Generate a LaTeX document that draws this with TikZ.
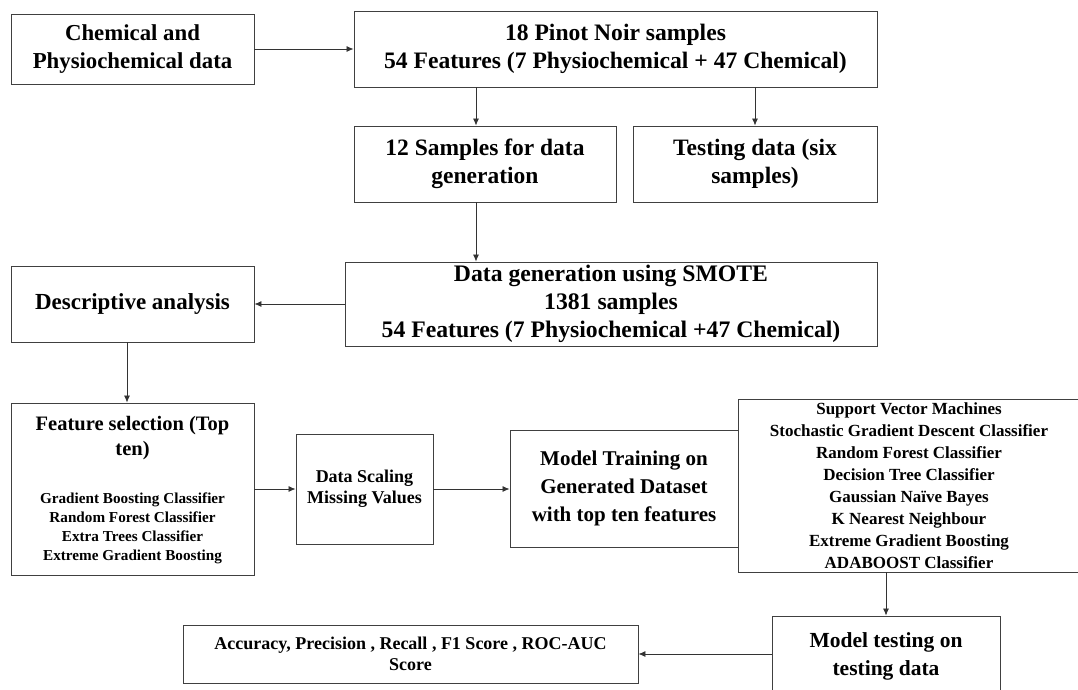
\documentclass[tikz,border=0pt]{standalone}
\usepackage{fontspec}
\setmainfont{Liberation Serif}
\usetikzlibrary{arrows.meta,calc}
\begin{document}
\begin{tikzpicture}[x=1pt,y=-1pt,
  box/.style={draw=black!75,line width=0.9pt,align=center,inner sep=0pt,font=\bfseries},
  arr/.style={draw=black!80,line width=0.8pt,-{Latex[length=7pt,width=6pt]}},
  fs/.style 2 args={font=\fontsize{#1}{#2}\selectfont\bfseries}]
\useasboundingbox (0,0) rectangle (1078,689);
\node[box,fs={22.8}{28},minimum width=243pt,minimum height=70pt] (A) at (132.5,49) {Chemical and\\Physiochemical data};
\node[box,fs={23.6}{28},minimum width=523pt,minimum height=76pt] (B) at (615.5,49) {18 Pinot Noir samples\\54 Features (7 Physiochemical + 47 Chemical)};
\node[box,fs={23.5}{28},minimum width=262pt,minimum height=76pt] (C) at (485,164) {12 Samples for data\\generation};
\node[box,fs={23.5}{28},minimum width=244pt,minimum height=76pt] (D) at (755,164) {Testing data (six\\samples)};
\node[box,fs={23.7}{28},minimum width=532pt,minimum height=84pt] (E) at (611,304) {Data generation using SMOTE\\1381 samples\\54 Features (7 Physiochemical +47 Chemical)};
\node[box,fs={23}{28},minimum width=243pt,minimum height=76pt] (F) at (132.5,304) {Descriptive analysis};
\node[box,minimum width=243pt,minimum height=172pt] (G) at (132.5,489) {};
\node[fs={20.5}{25},align=center,inner sep=0pt] (Gt) at (132.5,438) {Feature selection (Top\\ten)};
\node[fs={15.2}{19},align=center,inner sep=0pt] (Gl) at (132.5,528) {Gradient Boosting Classifier\\Random Forest Classifier\\Extra Trees Classifier\\Extreme Gradient Boosting};
\node[box,fs={18}{21},minimum width=137pt,minimum height=110pt] (H) at (364.5,489) {Data Scaling\\Missing Values};
\node[box,fs={21}{28},minimum width=228pt,minimum height=117pt] (I) at (624,488.5) {Model Training on\\Generated Dataset\\with top ten features};
\node[box,fs={17}{22},minimum width=342pt,minimum height=173pt] (J) at (909,485.5) {Support Vector Machines\\Stochastic Gradient Descent Classifier\\Random Forest Classifier\\Decision Tree Classifier\\Gaussian Naïve Bayes\\K Nearest Neighbour\\Extreme Gradient Boosting\\ADABOOST Classifier};
\node[box,fs={21.5}{28},minimum width=228pt,minimum height=80pt] (K) at (886,656) {Model testing on\\testing data};
\node[box,fs={18}{21},minimum width=455pt,minimum height=58pt] (L) at (410.5,654) {Accuracy, Precision , Recall , F1 Score , ROC-AUC\\Score};
\coordinate (xc) at (476,0);
\coordinate (xf) at (127,0);
\draw[arr] (A.east) -- (A.east -| B.west);
\draw[arr] (xc |- B.south) -- (xc |- C.north);
\draw[arr] (D.north |- B.south) -- (D.north);
\draw[arr] (xc |- C.south) -- (xc |- E.north);
\draw[arr] (E.west) -- (E.west -| F.east);
\draw[arr] (xf |- F.south) -- (xf |- G.north);
\draw[arr] (G.east |- H.west) -- (H.west);
\draw[arr] (H.east) -- (H.east -| I.west);
\draw[arr] (K.north |- J.south) -- (K.north);
\draw[arr] (K.west |- L.east) -- (L.east);
\end{tikzpicture}
\end{document}
